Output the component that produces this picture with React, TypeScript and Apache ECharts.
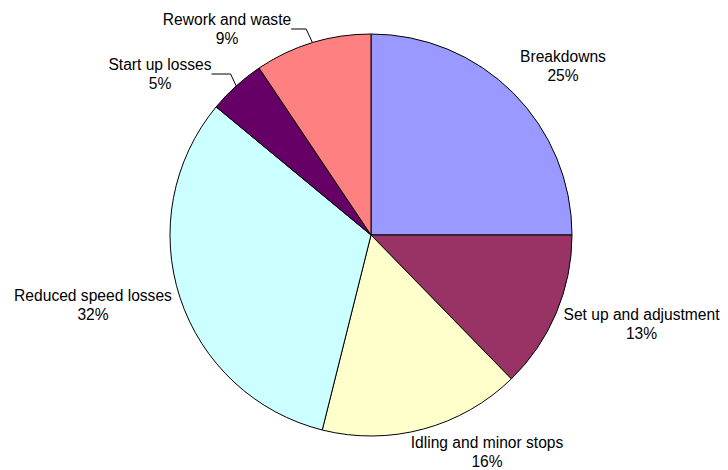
import React, { useEffect, useRef } from "react";
import * as echarts from "echarts";

const categories = [
  "Breakdowns",
  "Set up and adjustment",
  "Idling and minor stops",
  "Reduced speed losses",
  "Start up losses",
  "Rework and waste",
];
const values = [25, 12.7, 16.2, 32.1, 4.6, 9.4];
const colors = ["#9999FF", "#993366", "#FFFFCC", "#CCFFFF", "#660066", "#FF8080"];

// label anchor positions (layout only)
const labelPos: [number, number][] = [
  [563, 66],
  [641.5, 324],
  [487, 452],
  [93, 305],
  [160, 74],
  [227, 29],
];
const leaderLen = [0, 0, 0, 0, 19, 15];

export default function App() {
  const ref = useRef<HTMLDivElement>(null);
  useEffect(() => {
    if (!ref.current) return;
    const chart = echarts.init(ref.current, undefined, { renderer: "svg" });
    chart.setOption({
      animation: false,
      backgroundColor: "#ffffff",
      series: [
        {
          type: "pie",
          center: [371, 235],
          radius: 201,
          startAngle: 90,
          clockwise: true,
          avoidLabelOverlap: false,
          itemStyle: { borderColor: "#000", borderWidth: 1 },
          emphasis: { disabled: true },
          label: {
            show: true,
            position: "outside",
            color: "#000",
            fontFamily: "Liberation Sans, Arial, sans-serif",
            fontSize: 15.6,
            lineHeight: 19,
            align: "center",
            formatter: (p: any) => `${p.name}\n${Math.round(p.percent)}%`,
          },
          labelLine: { show: false, lineStyle: { color: "#000", width: 1 } },
          labelLayout: (p: any) => {
            const pos = labelPos[p.dataIndex];
            return { x: pos[0], y: pos[1], align: "center", verticalAlign: "middle" };
          },
          data: categories.map((name, i) => ({
            name,
            value: values[i],
            itemStyle: { color: colors[i] },
            labelLine:
              leaderLen[i] > 0
                ? { show: true, length: 5, length2: leaderLen[i], lineStyle: { color: "#000", width: 1 } }
                : { show: false },
          })),
        },
      ],
    });
    return () => chart.dispose();
  }, []);
  return (
    <div
      ref={ref}
      style={{ position: "absolute", left: 0, top: 0, width: 728, height: 470, background: "#fff" }}
    />
  );
}
